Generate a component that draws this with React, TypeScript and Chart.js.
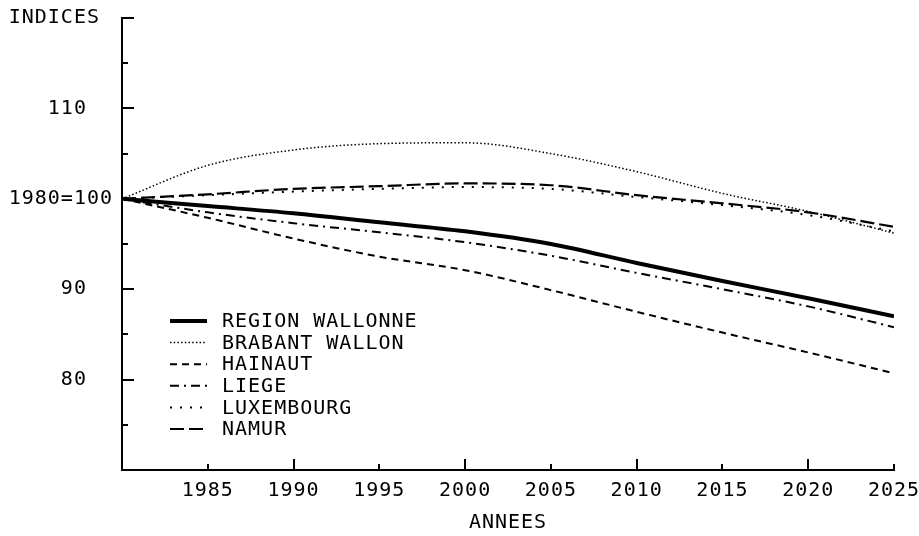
import React, { useEffect, useRef } from 'react';
import { Chart, registerables } from 'chart.js';

Chart.register(...registerables);

// ---- Data ----
const years = [1980, 1985, 1990, 1995, 2000, 2005, 2010, 2015, 2020, 2025];
const regionWallonne = [100, 99.2, 98.4, 97.4, 96.4, 95.0, 92.9, 90.9, 89.0, 87.0];
const brabantWallon = [100, 103.7, 105.4, 106.1, 106.2, 105.0, 103.0, 100.6, 98.6, 96.2];
const hainaut = [100, 97.9, 95.6, 93.6, 92.1, 89.9, 87.5, 85.2, 83.0, 80.7];
const liege = [100, 98.5, 97.3, 96.3, 95.2, 93.7, 91.8, 90.0, 88.1, 85.8];
const luxembourg = [100, 100.4, 100.8, 101.1, 101.3, 101.1, 100.2, 99.3, 98.2, 96.4];
const namur = [100, 100.5, 101.1, 101.4, 101.7, 101.5, 100.4, 99.5, 98.5, 96.9];

const seriesNames = ['REGION WALLONNE', 'BRABANT WALLON', 'HAINAUT', 'LIEGE', 'LUXEMBOURG', 'NAMUR'];
const seriesValues = [regionWallonne, brabantWallon, hainaut, liege, luxembourg, namur];
const seriesWidths = [4, 1.5, 2, 2, 2, 2.2];
const seriesDashes: number[][] = [[], [1.5, 2.2], [7, 5], [9, 5, 2, 5], [2, 8], [14, 5]];

const yTickLabels: Record<number, string> = {
  120: 'INDICES ',
  110: '110  ',
  100: '1980=100',
  90: '90  ',
  80: '80  ',
};
const xLabelYears = [1985, 1990, 1995, 2000, 2005, 2010, 2015, 2020, 2025];
const xTitle = 'ANNEES';

const FONT = "'DejaVu Sans Mono', monospace";
const FONT_SIZE = 20;
const SPACING = '1px';

const spacingPlugin = {
  id: 'spacing',
  beforeUpdate(chart: any) {
    chart.ctx.letterSpacing = SPACING;
  },
  beforeDraw(chart: any) {
    chart.ctx.letterSpacing = SPACING;
  },
};

const decorPlugin = {
  id: 'decor',
  afterDraw(chart: any) {
    const ctx = chart.ctx;
    const xs = chart.scales.x;
    const ys = chart.scales.y;
    const area = chart.chartArea;
    ctx.save();
    ctx.strokeStyle = '#000';
    ctx.lineWidth = 2;
    ctx.setLineDash([]);
    // y ticks (inward)
    ys.ticks.forEach((t: any) => {
      const v = t.value;
      if (v <= ys.min) return;
      const len = v % 10 === 0 ? 12 : 6;
      const py = Math.round(ys.getPixelForValue(v));
      ctx.beginPath();
      ctx.moveTo(area.left, py);
      ctx.lineTo(area.left + len, py);
      ctx.stroke();
    });
    // x ticks (upward)
    xs.ticks.forEach((t: any) => {
      const v = t.value;
      if (v <= xs.min) return;
      const len = v === xs.max ? 6 : v % 10 === 0 ? 11 : 6;
      const px = Math.round(xs.getPixelForValue(v));
      ctx.beginPath();
      ctx.moveTo(px, area.bottom);
      ctx.lineTo(px, area.bottom - len);
      ctx.stroke();
    });
    // legend inside plot
    const lx0 = 170;
    const lx1 = 207;
    const tx = 222;
    const y0 = 321;
    const step = 21.6;
    ctx.font = `${FONT_SIZE}px ${FONT}`;
    ctx.fillStyle = '#000';
    ctx.textAlign = 'left';
    ctx.textBaseline = 'middle';
    chart.data.datasets.forEach((ds: any, i: number) => {
      const y = y0 + i * step;
      ctx.beginPath();
      ctx.lineWidth = ds.borderWidth;
      ctx.setLineDash(ds.borderDash || []);
      ctx.moveTo(lx0, y);
      ctx.lineTo(lx1, y);
      ctx.stroke();
      ctx.setLineDash([]);
      ctx.fillText(ds.label, tx, y + 1);
    });
    ctx.restore();
  },
};

export default function App() {
  const ref = useRef<HTMLCanvasElement | null>(null);
  useEffect(() => {
    document.body.style.margin = '0';
    const canvas = ref.current!;
    const chart = new Chart(canvas, {
      type: 'line',
      data: {
        datasets: seriesNames.map((name, i) => ({
          label: name,
          data: years.map((yr, j) => ({ x: yr, y: seriesValues[i][j] })),
          borderColor: '#000',
          backgroundColor: '#000',
          borderWidth: seriesWidths[i],
          borderDash: seriesDashes[i],
          pointRadius: 0,
          fill: false,
          cubicInterpolationMode: 'monotone' as const,
        })),
      },
      options: {
        responsive: false,
        animation: false,
        devicePixelRatio: 1,
        layout: { padding: { top: 18, right: 0, left: 0, bottom: 0 } },
        plugins: {
          legend: { display: false },
          tooltip: { enabled: false },
        },
        scales: {
          x: {
            type: 'linear',
            min: 1980,
            max: 2025,
            grid: { display: true, drawOnChartArea: false, drawTicks: false },
            border: { display: true, color: '#000', width: 2 },
            ticks: {
              stepSize: 5,
              autoSkip: false,
              maxRotation: 0,
              padding: 9,
              color: '#000',
              font: { family: FONT, size: FONT_SIZE },
              callback: (v: any) => (xLabelYears.includes(Number(v)) ? String(v) : ''),
            },
            title: {
              display: true,
              text: xTitle,
              color: '#000',
              font: { family: FONT, size: FONT_SIZE },
              padding: { top: 0, bottom: 1 },
            },
            afterFit: (s: any) => {
              s.height = 66;
              s.paddingLeft = 0;
              s.paddingRight = 25;
            },
          },
          y: {
            type: 'linear',
            min: 70,
            max: 120,
            grid: { display: true, drawOnChartArea: false, drawTicks: false },
            border: { display: true, color: '#000', width: 2 },
            ticks: {
              stepSize: 5,
              autoSkip: false,
              padding: 9,
              color: '#000',
              font: { family: FONT, size: FONT_SIZE },
              callback: (v: any) => yTickLabels[Number(v)] ?? '',
            },
            afterFit: (s: any) => {
              s.width = 122;
              s.paddingTop = 0;
              s.paddingBottom = 0;
            },
          },
        },
      },
      plugins: [spacingPlugin, decorPlugin],
    });
    return () => chart.destroy();
  }, []);
  return (
    <canvas
      ref={ref}
      width={919}
      height={536}
      style={{ display: 'block', width: 919, height: 536, background: '#fff' }}
    />
  );
}
